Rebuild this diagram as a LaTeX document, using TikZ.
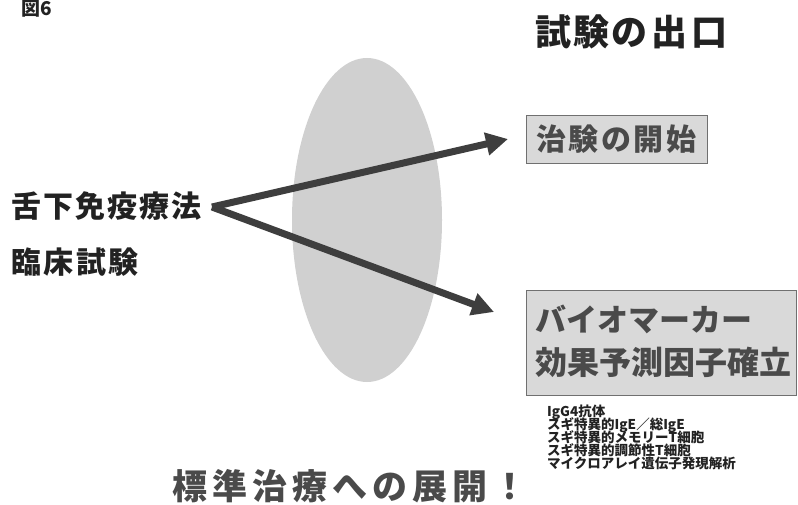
\documentclass[tikz,border=0pt]{standalone}
\usepackage{fontspec}
\setmainfont{Noto Sans CJK JP}
\usetikzlibrary{arrows.meta}
\definecolor{ellgray}{HTML}{D0D0D0}
\definecolor{arrowgray}{HTML}{3E3E3E}
\definecolor{boxfill}{HTML}{D9D9D9}
\definecolor{boxline}{HTML}{707070}
\definecolor{boxtext}{HTML}{4A4A4A}
\definecolor{maintext}{HTML}{222222}
\tikzset{
  lbl/.style={inner sep=0pt, anchor=west, text=maintext, font=\bfseries},
  conn/.style={draw=arrowgray, line width=7pt, -{Triangle[length=22pt,width=22pt]}},
  outbox/.style={draw=boxline, line width=1.2pt, fill=boxfill},
  small/.style={lbl, font=\bfseries\fontsize{13.5}{13.5}\selectfont}
}
\begin{document}
\begin{tikzpicture}[x=1pt,y=-1pt]
\useasboundingbox (0,0) rectangle (798,505);
% ellipse
\fill[ellgray] (367,220) ellipse [x radius=75, y radius=162];
% titles
\node[lbl, font=\bfseries\fontsize{19}{19}\selectfont] (fig) at (21,9) {図6};
\node[lbl, font=\bfseries\fontsize{36}{36}\selectfont] (title) at (535,32) {試\kern2pt 験\kern2pt の\kern4pt 出\kern4pt 口};
% left labels
\node[lbl, font=\bfseries\fontsize{30}{30}\selectfont] (sl) at (11,206) {舌\kern2pt 下\kern2pt 免\kern2pt 疫\kern2pt 療\kern2pt 法};
\node[lbl, font=\bfseries\fontsize{30}{30}\selectfont] (rs) at (11,262) {臨\kern2.5pt 床\kern2.5pt 試\kern2.5pt 験};
\coordinate (src) at (212,207);
% boxes
\node[outbox, minimum width=181pt, minimum height=48pt, anchor=north west] (b1) at (526,115) {};
\node[lbl, text=boxtext, font=\bfseries\fontsize{30}{30}\selectfont] (t1) at (536,139) {治\kern2.5pt 験\kern2.5pt の\kern2.5pt 開\kern2.5pt 始};
\node[outbox, minimum width=270pt, minimum height=105pt, anchor=north west] (b2) at (526,290) {};
\node[lbl, text=boxtext, font=\bfseries\fontsize{31}{31}\selectfont] (t2) at (535,319) {バイオマーカー};
\node[lbl, text=boxtext, font=\bfseries\fontsize{32}{32}\selectfont] (t3) at (535,362) {効果予測因子確立};
% arrows
\coordinate (e1) at (508,139);
\coordinate (e2) at (494,312);
\draw[conn] (src) -- (e1);
\draw[conn] (src) -- (e2);
% list
\node[small] (l1) at (547,412) {IgG4抗体};
\node[small] (l2) at (547,425) {スギ特異的IgE／総IgE};
\node[small] (l3) at (547,437.5) {スギ特異的メモリーT細胞};
\node[small] (l4) at (547,450) {スギ特異的調節性T細胞};
\node[small] (l5) at (547,463) {マイクロアレイ遺伝子発現解析};
% bottom
\node[lbl, text=boxtext, font=\bfseries\fontsize{35}{35}\selectfont] (bt) at (172,486) {標\kern5pt 準\kern5pt 治\kern5pt 療\kern5pt へ\kern5pt の\kern5pt 展\kern5pt 開\kern5pt ！};
\end{tikzpicture}
\end{document}
